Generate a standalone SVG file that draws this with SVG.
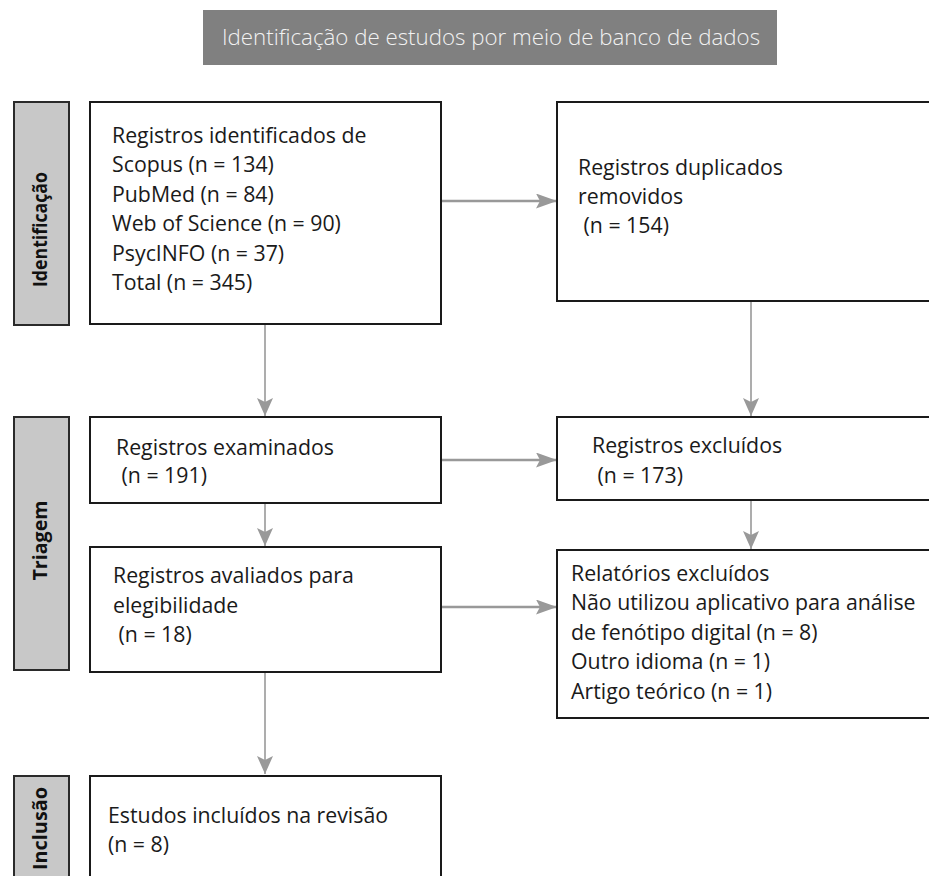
<svg xmlns="http://www.w3.org/2000/svg" width="929" height="876" viewBox="0 0 929 876">
<defs>
<style>
.box{fill:#fff;stroke:#1a1a1a;stroke-width:2}
.side{fill:#c8c8c8;stroke:#2a2a2a;stroke-width:2}
.t{font-family:"Open Sans","Noto Sans",sans-serif;font-size:21.3px;fill:#1a1a1a}
.s{font-family:"Open Sans","Noto Sans",sans-serif;font-size:20px;font-weight:bold;fill:#111}
.title{font-family:"Open Sans","Noto Sans",sans-serif;font-size:22.3px;fill:#f2f2f2;font-weight:300}
.h{stroke:#999;stroke-width:2.5;fill:none}
.v{stroke:#999;stroke-width:1.6;fill:none}
</style>
<marker id="ahh" markerWidth="21" markerHeight="15" refX="21" refY="7.5" orient="auto" markerUnits="userSpaceOnUse" viewBox="0 0 21 15">
<path d="M0,0 L21,7.5 L0,15 L4,7.5 Z" fill="#999"/>
</marker>
<marker id="ahv" markerWidth="18" markerHeight="16" refX="18" refY="8" orient="auto" markerUnits="userSpaceOnUse" viewBox="0 0 18 16">
<path d="M0,0 L18,8 L0,16 L4,8 Z" fill="#999"/>
</marker>
</defs>

<g id="title">
<rect x="203" y="10" width="574" height="55" fill="#808080"/>
<text class="title" x="491" y="45" text-anchor="middle">Identificação de estudos por meio de banco de dados</text>
</g>

<g id="side-identificacao">
<rect class="side" x="14" y="102" width="55" height="223"/>
<text class="s" transform="translate(47,229.5) rotate(-90)" text-anchor="middle" textLength="115" lengthAdjust="spacingAndGlyphs">Identificação</text>
</g>
<g id="side-triagem">
<rect class="side" x="14" y="417" width="55" height="253"/>
<text class="s" transform="translate(47,540.5) rotate(-90)" text-anchor="middle" textLength="80" lengthAdjust="spacingAndGlyphs">Triagem</text>
</g>
<g id="side-inclusao">
<rect class="side" x="14" y="776" width="55" height="110"/>
<text class="s" transform="translate(47,828.5) rotate(-90)" text-anchor="middle" textLength="83" lengthAdjust="spacingAndGlyphs">Inclusão</text>
</g>

<g id="connectors">
<line class="h" x1="441" y1="201" x2="557" y2="201" marker-end="url(#ahh)"/>
<line class="v" x1="265" y1="324" x2="265" y2="416" marker-end="url(#ahv)"/>
<line class="v" x1="751" y1="301" x2="751" y2="416" marker-end="url(#ahv)"/>
<line class="h" x1="441" y1="460" x2="557" y2="460" marker-end="url(#ahh)"/>
<line class="v" x1="265" y1="503" x2="265" y2="546" marker-end="url(#ahv)"/>
<line class="v" x1="751" y1="500" x2="751" y2="549" marker-end="url(#ahv)"/>
<line class="h" x1="441" y1="607" x2="557" y2="607" marker-end="url(#ahh)"/>
<line class="v" x1="265" y1="672" x2="265" y2="774" marker-end="url(#ahv)"/>
</g>

<g id="n-registros-identificados">
<rect class="box" x="90" y="102" width="351" height="222"/>
<text class="t"><tspan x="112" y="143">Registros identificados de</tspan><tspan x="112" y="172">Scopus (n = 134)</tspan><tspan x="112" y="202">PubMed (n = 84)</tspan><tspan x="112" y="231">Web of Science (n = 90)</tspan><tspan x="112" y="261">PsycINFO (n = 37)</tspan><tspan x="112" y="290">Total (n = 345)</tspan></text>
</g>

<g id="n-duplicados">
<rect class="box" x="557" y="102" width="390" height="199"/>
<text class="t"><tspan x="578" y="175">Registros duplicados</tspan><tspan x="578" y="204">removidos</tspan><tspan x="578" y="233" xml:space="preserve"> (n = 154)</tspan></text>
</g>

<g id="n-examinados">
<rect class="box" x="90" y="417" width="351" height="86"/>
<text class="t"><tspan x="116" y="455">Registros examinados</tspan><tspan x="116" y="483" xml:space="preserve"> (n = 191)</tspan></text>
</g>

<g id="n-excluidos">
<rect class="box" x="557" y="417" width="390" height="83"/>
<text class="t"><tspan x="592" y="453">Registros excluídos</tspan><tspan x="592" y="483" xml:space="preserve"> (n = 173)</tspan></text>
</g>

<g id="n-avaliados">
<rect class="box" x="90" y="547" width="351" height="125"/>
<text class="t"><tspan x="113" y="583">Registros avaliados para</tspan><tspan x="113" y="613">elegibilidade</tspan><tspan x="113" y="642" xml:space="preserve"> (n = 18)</tspan></text>
</g>

<g id="n-relatorios">
<rect class="box" x="557" y="550" width="390" height="168"/>
<text class="t"><tspan x="571" y="581">Relatórios excluídos</tspan><tspan x="571" y="610">Não utilizou aplicativo para análise</tspan><tspan x="571" y="640">de fenótipo digital (n = 8)</tspan><tspan x="571" y="669">Outro idioma (n = 1)</tspan><tspan x="571" y="699">Artigo teórico (n = 1)</tspan></text>
</g>

<g id="n-incluidos">
<rect class="box" x="90" y="776" width="351" height="110"/>
<text class="t"><tspan x="108" y="823">Estudos incluídos na revisão</tspan><tspan x="108" y="852">(n = 8)</tspan></text>
</g>
</svg>
